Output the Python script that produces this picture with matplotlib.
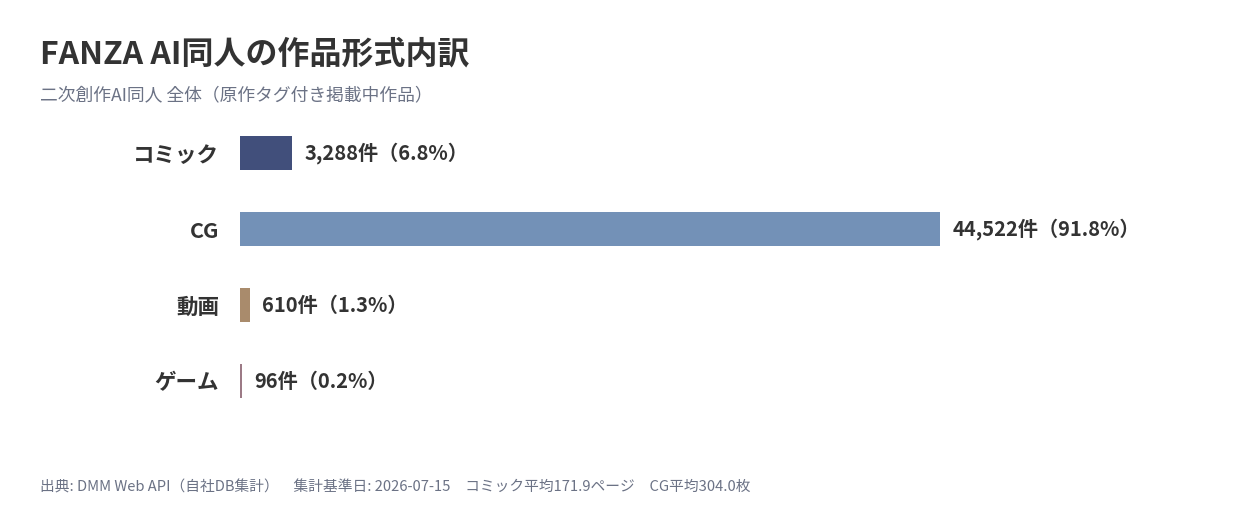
import numpy as np
import matplotlib
matplotlib.use("Agg")
import matplotlib.pyplot as plt

plt.rcParams['font.family'] = ['Noto Sans CJK JP', 'DejaVu Sans']

# データ
categories = ["コミック", "CG", "動画", "ゲーム"]
counts = [3288, 44522, 610, 96]
shares = [6.8, 91.8, 1.3, 0.2]
colors = ["#414f7b", "#7391b7", "#a98b6c", "#9c7a86"]

fig = plt.figure(figsize=(12.4, 5.2), dpi=100)
ax = fig.add_axes([240/1240, 1-419/520, 900/1240, 304/520])

y = np.arange(len(categories))
ax.barh(y, counts, height=0.45, color=colors)
ax.set_ylim(len(categories)-0.5, -0.5)
ax.set_xlim(0, max(counts)*900/700)

ax.set_yticks(y)
ax.set_yticklabels(categories, fontsize=15.5, fontweight='bold', color='#333333')
ax.tick_params(axis='y', length=0, pad=15)
ax.set_xticks([])
for s in ax.spines.values():
    s.set_visible(False)

for i, (c, p) in enumerate(zip(counts, shares)):
    ax.annotate(f"{c:,}件（{p}%）", (c, i), xytext=(9, 0), textcoords='offset points',
                va='center', ha='left', fontsize=14.5, fontweight='bold', color='#333333')

fig.text(40/1240, 1-55/520, "FANZA AI同人の作品形式内訳", fontsize=23, fontweight='bold',
         color='#333333', va='center')
fig.text(40/1240, 1-95/520, "二次創作AI同人 全体（原作タグ付き掲載中作品）", fontsize=12.8,
         color='#6b7285', va='center')
fig.text(40/1240, 1-487/520,
         "出典: DMM Web API（自社DB集計）　集計基準日: 2026-07-15　コミック平均171.9ページ　CG平均304.0枚",
         fontsize=10.6, color='#6b7285', va='center')

fig.savefig("out.png", dpi=100, facecolor='white')
